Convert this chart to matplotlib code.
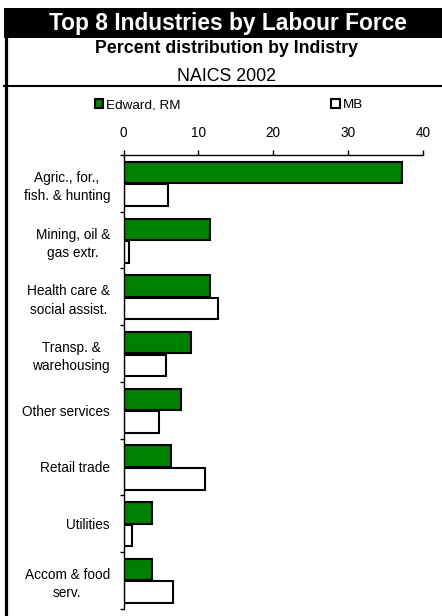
import matplotlib
matplotlib.use("Agg")
import matplotlib.pyplot as plt
from matplotlib.patches import Rectangle, Patch
from matplotlib.lines import Line2D

plt.rcParams["font.family"] = ["Liberation Sans", "DejaVu Sans"]

categories = ["Agric., for.,\nfish. & hunting", "Mining, oil &\ngas extr.",
              "Health care &\nsocial assist.", "Transp. &\nwarehousing",
              "Other services", "Retail trade", "Utilities", "Accom & food\nserv."]
edward = [37.2, 11.5, 11.5, 9.0, 7.7, 6.4, 3.8, 3.8]
mb = [6.0, 0.7, 12.6, 5.7, 4.7, 10.9, 1.2, 6.6]
xticks = [0, 10, 20, 30, 40]

W, H = 442, 616
fig = plt.figure(figsize=(W / 100, H / 100), dpi=100)

# title band and frame
fig.patches.append(Rectangle((4 / W, 1 - 37.5 / H), 1, 29.5 / H, transform=fig.transFigure,
                             facecolor="black", edgecolor="none"))
fig.lines.append(Line2D([5.5 / W, 5.5 / W], [0, 1 - 37 / H], transform=fig.transFigure,
                        color="black", lw=2.3))
fig.lines.append(Line2D([4 / W, 1], [1 - 86 / H, 1 - 86 / H], transform=fig.transFigure,
                        color="black", lw=1.5))

fig.text(228 / W, 1 - 30 / H, "Top 8 Industries by Labour Force", color="white",
         fontsize=16.4, fontweight="bold", ha="center", va="baseline")
fig.text(227 / W, 1 - 53.3 / H, "Percent distribution by Indistry", fontsize=12.8,
         fontweight="bold", ha="center", va="baseline")
fig.text(227 / W, 1 - 81 / H, "NAICS 2002", fontsize=12.8, ha="center", va="baseline")

ax = fig.add_axes([123.5 / W, 7.3 / H, 299.5 / W, 453.7 / H])
pos = list(range(len(categories)))
ax.barh([p + 0.31 for p in pos], edward, height=0.38, color="#008000",
        edgecolor="black", linewidth=1.5, label="Edward, RM")
ax.barh([p + 0.71 for p in pos], mb, height=0.38, color="white",
        edgecolor="black", linewidth=1.5, label="MB")

ax.set_xlim(0, 40)
ax.set_ylim(len(categories), 0)
ax.set_xticks(xticks)
ax.xaxis.tick_top()
ax.tick_params(axis="x", direction="out", length=3.5, width=1, labelsize=9.8, pad=7.5)
ax.set_yticks(range(len(categories) + 1))
ax.set_yticklabels([])
ax.set_yticks([p + 0.5 for p in pos], minor=True)
ax.set_yticklabels(categories, minor=True, fontsize=9.8, ha="right",
                   multialignment="center", linespacing=1.4)
ax.tick_params(axis="y", which="major", direction="out", length=3.2, width=1)
ax.tick_params(axis="y", which="minor", length=0, pad=9.7)
for s in ["right", "bottom"]:
    ax.spines[s].set_visible(False)
for s in ["top", "left"]:
    ax.spines[s].set_linewidth(1)

fig.legend(handles=[Patch(facecolor="#008000", edgecolor="black", lw=1.5, label="Edward, RM"),
                    Patch(facecolor="white", edgecolor="black", lw=1.5, label="MB")],
           loc="center left", bbox_to_anchor=(95 / W, 1 - 105 / H), ncol=2,
           frameon=False, fontsize=9.7, handlelength=0.62, handleheight=0.62,
           handletextpad=0.2, columnspacing=11.2, borderpad=0, borderaxespad=0)

fig.savefig("out.png", dpi=100)
